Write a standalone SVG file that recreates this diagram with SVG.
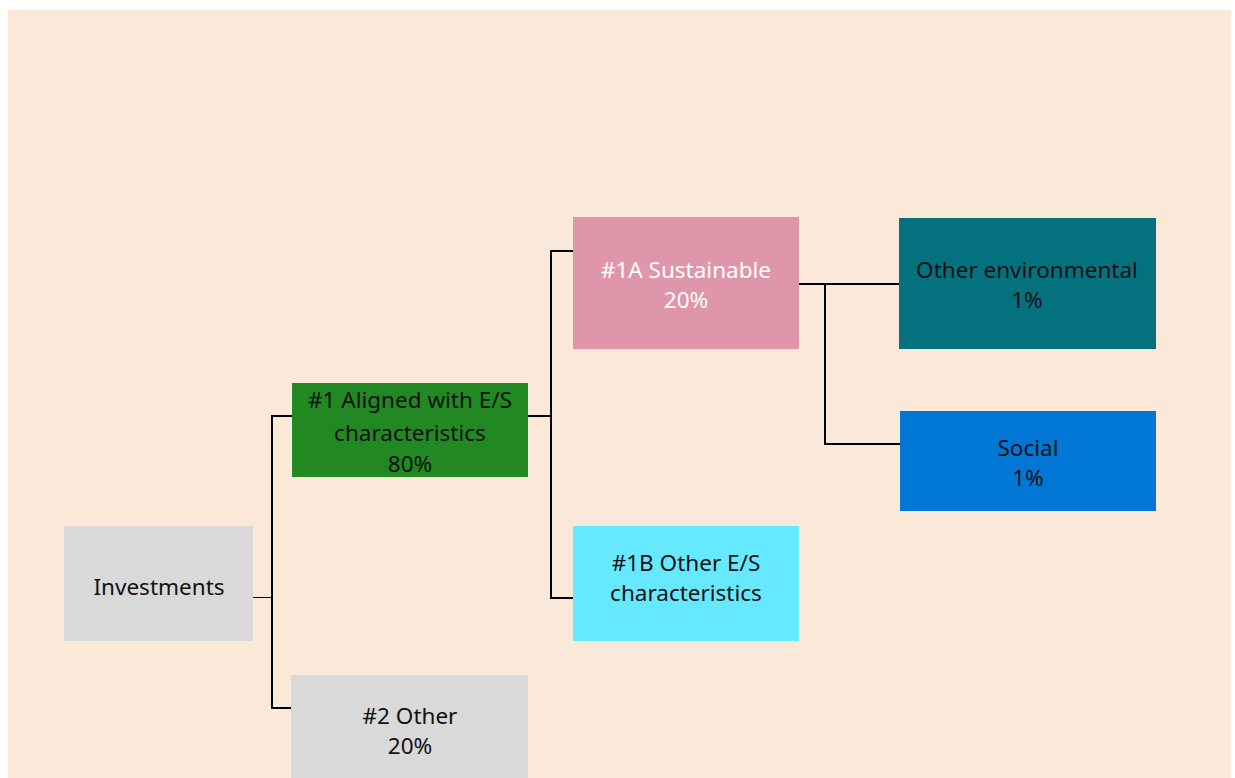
<svg xmlns="http://www.w3.org/2000/svg" width="1235" height="778" viewBox="0 0 1235 778">
<style>
text{font-family:"Noto Sans","Liberation Sans",sans-serif;font-size:22.5px;text-anchor:middle;fill:#111}
.w{fill:#fff}
.c{stroke:#000;stroke-width:2;fill:none}
.t{stroke:#000;stroke-width:1;fill:none}
</style>
<rect x="0" y="0" width="1235" height="778" fill="#fff"/>
<rect x="8" y="10" width="1223" height="768" fill="#fae8d8"/>
<g id="connectors">
<line class="t" x1="253" y1="597.5" x2="272" y2="597.5"/>
<polyline class="c" points="292,416 272,416 272,708 292,708"/>
<line class="c" x1="528" y1="416" x2="551" y2="416"/>
<polyline class="c" points="573,251 551,251 551,598 573,598"/>
<line class="c" x1="799" y1="284" x2="900" y2="284"/>
<polyline class="c" points="825,284 825,444 900,444"/>
</g>
<g id="investments"><rect x="64" y="526" width="189" height="115" fill="#d9d9d9"/><text x="159" y="595">Investments</text></g>
<g id="aligned"><rect x="292" y="383" width="236" height="94" fill="#228822"/><text x="410" y="408">#1 Aligned with E/S</text><text x="410" y="441">characteristics</text><text x="410" y="472">80%</text></g>
<g id="other2"><rect x="291" y="675" width="237" height="103" fill="#d9d9d9"/><text x="410" y="724">#2 Other</text><text x="410" y="754">20%</text></g>
<g id="sustainable"><rect x="573" y="217" width="226" height="132" fill="#e096aa"/><text class="w" x="686" y="278">#1A Sustainable</text><text class="w" x="686" y="308">20%</text></g>
<g id="otherES"><rect x="573" y="526" width="226" height="115" fill="#66e8ff"/><text x="686" y="571">#1B Other E/S</text><text x="686" y="601">characteristics</text></g>
<g id="otherEnv"><rect x="899" y="218" width="257" height="131" fill="#03727e"/><text x="1027" y="278">Other environmental</text><text x="1027" y="308">1%</text></g>
<g id="social"><rect x="900" y="411" width="256" height="100" fill="#0077d4"/><text x="1028" y="456">Social</text><text x="1028" y="486">1%</text></g>
</svg>
